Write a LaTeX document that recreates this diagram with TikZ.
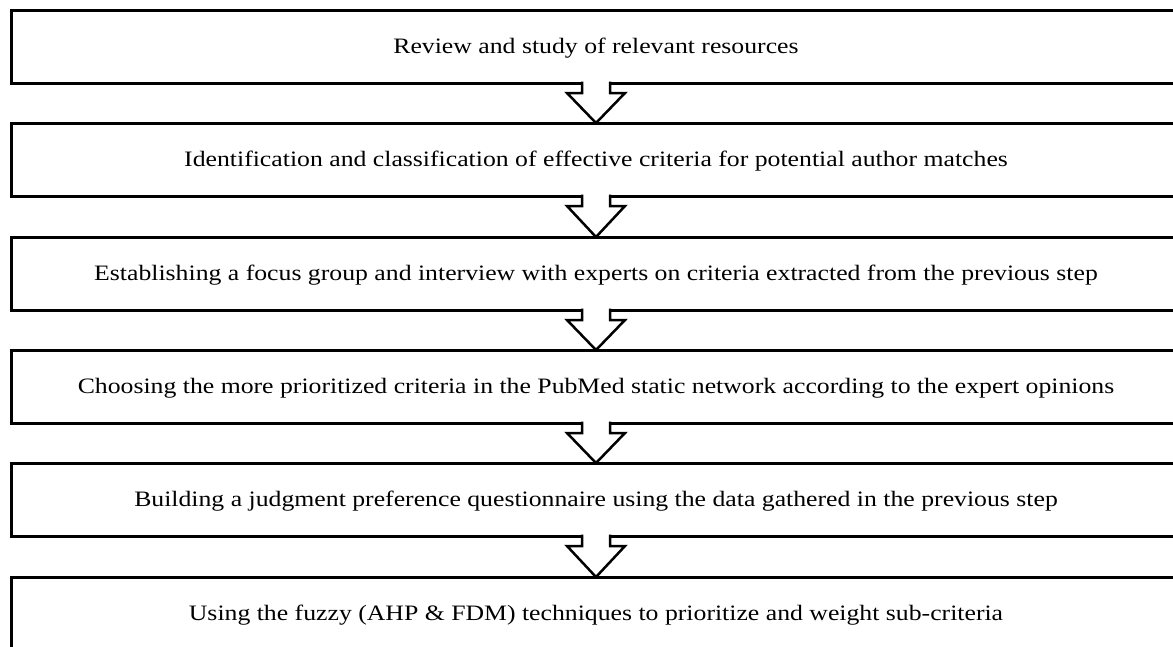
\documentclass[tikz,border=0pt]{standalone}
\usepackage{fontspec}
\setmainfont{Liberation Serif}[FakeStretch=1.17]
\usetikzlibrary{calc}
\tikzset{
  stepbox/.style={draw=black, line width=3pt, fill=white, outer sep=0pt,
    minimum width=1170pt, minimum height=73pt, inner sep=0pt,
    text height=18pt, text depth=4pt,
    font=\fontsize{22}{26}\selectfont},
  hollowarrow/.style={draw=black, fill=white, line width=2.5pt, line join=miter}
}
\begin{document}
\begin{tikzpicture}[x=1pt,y=1pt]
\useasboundingbox (0,0) rectangle (1173,-646);
\clip (0,0) rectangle (1173,-646);
\node[stepbox] (b1) at (596,-46.5) {Review and study of relevant resources};
\node[stepbox] (b2) at (596,-159.5) {Identification and classification of effective criteria for potential author matches};
\node[stepbox] (b3) at (596,-273.5) {Establishing a focus group and interview with experts on criteria extracted from the previous step};
\node[stepbox] (b4) at (596,-386.5) {Choosing the more prioritized criteria in the PubMed static network according to the expert opinions};
\node[stepbox] (b5) at (596,-499.5) {Building a judgment preference questionnaire using the data gathered in the previous step};
\node[stepbox] (b6) at (596,-613.5) {Using the fuzzy (AHP \& FDM) techniques to prioritize and weight sub-criteria};
\foreach \a/\b in {b1/b2,b2/b3,b3/b4,b4/b5,b5/b6}{
  \draw[hollowarrow] ($(\a.south)+(-14,1.5)$) -- ($(\a.south)+(-14,-10)$)
    -- ($(\a.south)+(-29,-10)$) -- (\b.north)
    -- ($(\a.south)+(29,-10)$) -- ($(\a.south)+(14,-10)$)
    -- ($(\a.south)+(14,1.5)$);
}
\end{tikzpicture}
\end{document}
